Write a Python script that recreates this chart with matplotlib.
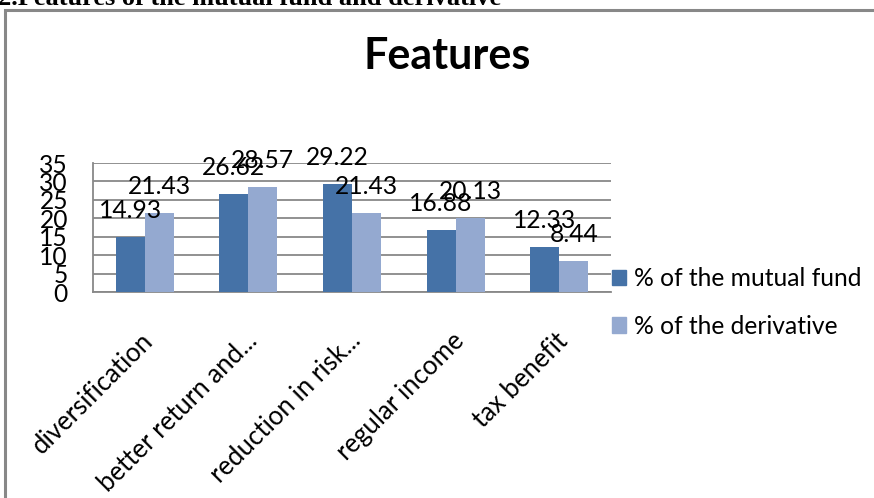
import matplotlib
matplotlib.use("Agg")
import matplotlib.pyplot as plt
import matplotlib.transforms as mtransforms
import numpy as np
from matplotlib.patches import Patch, Rectangle

categories = ["diversification", "better return and...", "reduction in risk...",
              "regular income", "tax benefit"]
mutual_fund = [14.93, 26.62, 29.22, 16.88, 12.33]
derivative = [21.43, 28.57, 21.43, 20.13, 8.44]
series_names = ["% of the mutual fund", "% of the derivative"]
yticks = [0, 5, 10, 15, 20, 25, 30, 35]

dark = "#4572A7"
light = "#94A9D0"
grid_c = "#888888"
FONT = "Lato"
fs = 17.7

W, H = 874, 498
fig = plt.figure(figsize=(W / 100, H / 100), dpi=100)

# outer chart border (cut by figure edges)
fig.patches.append(Rectangle((5 / W, -0.1), 1.2, (H - 10) / H + 0.1,
                             transform=fig.transFigure, fill=False,
                             edgecolor=grid_c, linewidth=2.2))

# cut-off heading from the document
fig.text(-2 / W, 1 - 5 / H, "2.Features of the mutual fund and derivative",
         family="Liberation Serif", weight="bold", fontsize=19,
         va="baseline", ha="left")

ax = fig.add_axes([93 / W, (H - 292) / H, (611 - 93) / W, 129 / H])
x = np.arange(len(categories))
bw = 0.28
b1 = ax.bar(x - bw / 2, mutual_fund, bw, color=dark, zorder=3)
b2 = ax.bar(x + bw / 2, derivative, bw, color=light, zorder=3)

for bars, vals in ((b1, mutual_fund), (b2, derivative)):
    for r, v in zip(bars, vals):
        ax.annotate(f"{v:.2f}", (r.get_x() + r.get_width() / 2, v),
                    xytext=(0, 19), textcoords="offset pixels",
                    ha="center", va="baseline", family=FONT, fontsize=fs,
                    zorder=5, annotation_clip=False)

ax.set_xlim(-0.5, len(categories) - 0.5)
ax.set_ylim(0, 35)
ax.set_yticks(yticks)
ax.set_yticklabels([str(t) for t in yticks], family=FONT, fontsize=fs)
ax.yaxis.grid(True, color=grid_c, linewidth=1.3, zorder=0)
ax.set_axisbelow(True)
ax.tick_params(axis="y", length=0, pad=18)
ax.set_xticks(x)
ax.set_xticklabels(categories, rotation=45, ha="right", va="top",
                   rotation_mode="anchor", family=FONT, fontsize=18.5)
ax.tick_params(axis="x", length=0, pad=26)
shift = mtransforms.ScaledTranslation(-4 / 100, 0, fig.dpi_scale_trans)
for lab in ax.get_xticklabels():
    lab.set_transform(lab.get_transform() + shift)
for s in ("top", "right"):
    ax.spines[s].set_visible(False)
for s in ("left", "bottom"):
    ax.spines[s].set_color(grid_c)
    ax.spines[s].set_linewidth(1.3)

fig.text(447 / W, 1 - 69 / H, "Features", family=FONT, weight="bold",
         fontsize=31, ha="center", va="baseline")

handles = [Patch(color=dark), Patch(color=light)]
leg = fig.legend(handles, series_names, loc="upper left",
                 bbox_to_anchor=(590 / W, 1 - 245 / H), frameon=False,
                 prop={"family": FONT, "size": fs}, handlelength=0.57,
                 handleheight=0.57, handletextpad=0.3, labelspacing=1.0)

fig.savefig("out.png", dpi=100)
